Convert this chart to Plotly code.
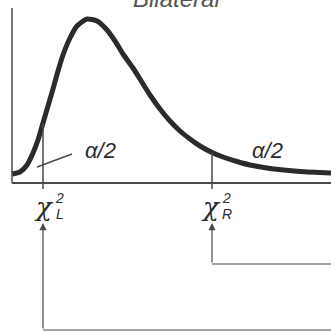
import numpy as np
import plotly.graph_objects as go

# Curve (chi-square style density)
curve_x = [0, 0.32, 0.6, 0.84, 1.04, 1.24, 1.44, 1.64, 1.84, 2.04, 2.32, 2.6, 3.0, 3.4, 3.8,
           4.12, 4.44, 4.84, 5.12, 5.52, 5.92, 6.32, 6.72, 7.12, 7.52, 8.0, 8.44, 9.0, 9.52,
           10.32, 11.52, 12.76]
curve_y = [0.009, 0.011, 0.018, 0.030, 0.043, 0.060, 0.077, 0.094, 0.112, 0.128, 0.145, 0.157,
           0.164, 0.162, 0.153, 0.142, 0.129, 0.115, 0.104, 0.088, 0.074, 0.062, 0.052, 0.044,
           0.037, 0.0305, 0.026, 0.0215, 0.018, 0.0145, 0.0115, 0.010]

crit_names = ["L", "R"]
crit_x = [1.24, 8.0]
tail_labels = ["α/2", "α/2"]
title_text = "Bilateral"

# pixel -> data helpers (layout only)
def X(px):
    return (px - 12) / 25.0

def Y(py):
    return (183 - py) / 1000.0

ink = "#2b2b2b"
thin = "#4a4a4a"

fig = go.Figure()
fig.add_trace(go.Scatter(x=curve_x, y=curve_y, mode="lines",
                         line=dict(color=ink, width=5, shape="spline", smoothing=0.6),
                         hoverinfo="skip", showlegend=False))

shapes = []
# axes
shapes.append(dict(type="line", x0=0, x1=0, y0=0, y1=Y(8), line=dict(color=thin, width=1.5)))
shapes.append(dict(type="line", x0=0, x1=X(331), y0=0, y1=0, line=dict(color=thin, width=1.8)))

# critical lines from curve down to just below axis
for cx in crit_x:
    cy = float(np.interp(cx, curve_x, curve_y))
    shapes.append(dict(type="line", x0=cx, x1=cx, y0=cy, y1=Y(189),
                       line=dict(color=thin, width=1.5)))

# horizontal legs of arrows
leg_py = [330, 264]
for cx, py in zip(crit_x, leg_py):
    shapes.append(dict(type="line", x0=cx, x1=X(331), y0=Y(py), y1=Y(py),
                       line=dict(color=thin, width=1.2)))

# leader line for left alpha/2
shapes.append(dict(type="line", x0=X(37), y0=Y(167), x1=X(72), y1=Y(154),
                   line=dict(color=thin, width=1.5)))

annotations = []
# arrows
for cx, py in zip(crit_x, leg_py):
    annotations.append(dict(x=cx, y=Y(223), ax=cx, ay=Y(py), xref="x", yref="y",
                            axref="x", ayref="y", text="", showarrow=True,
                            arrowhead=2, arrowsize=1.2, arrowwidth=1.2, arrowcolor=thin))

# chi labels
chi_font = dict(family="DejaVu Serif", size=26, color=ink)
small_font = dict(family="Liberation Sans", size=14, color=ink)
chi_cx = [44, 211]
for name, cpx in zip(crit_names, chi_cx):
    annotations.append(dict(x=X(cpx), y=Y(207), xref="x", yref="y", text="<i>χ</i>",
                            showarrow=False, font=chi_font, xanchor="center", yanchor="middle"))
    annotations.append(dict(x=X(cpx + 15), y=Y(198), xref="x", yref="y", text="<i>2</i>",
                            showarrow=False, font=small_font, xanchor="center", yanchor="middle"))
    annotations.append(dict(x=X(cpx + 16), y=Y(214), xref="x", yref="y", text="<i>" + name + "</i>",
                            showarrow=False, font=small_font, xanchor="center", yanchor="middle"))

# alpha/2 labels
alpha_font = dict(family="Liberation Sans", size=22, color=ink)
alpha_pos = [(100, 150), (267, 150)]
for txt, (px, py) in zip(tail_labels, alpha_pos):
    annotations.append(dict(x=X(px), y=Y(py), xref="x", yref="y", text="<i>" + txt + "</i>",
                            showarrow=False, font=alpha_font, xanchor="center", yanchor="middle"))

# title (cut off at top, as in the reference)
annotations.append(dict(x=X(176), y=Y(14), xref="x", yref="y", text="<i>" + title_text + "</i>",
                        showarrow=False, font=dict(family="Liberation Sans", size=24, color="#555555"),
                        xanchor="center", yanchor="bottom"))

fig.update_layout(
    width=331, height=331, autosize=False,
    margin=dict(l=0, r=0, t=0, b=0),
    paper_bgcolor="white", plot_bgcolor="white",
    xaxis=dict(range=[X(0), X(331)], visible=False, fixedrange=True),
    yaxis=dict(range=[Y(331), Y(0)], visible=False, fixedrange=True),
    shapes=shapes, annotations=annotations, showlegend=False,
)

fig.write_html("out.html", config={"displayModeBar": False},
               post_script="document.body.style.margin='0px';")
